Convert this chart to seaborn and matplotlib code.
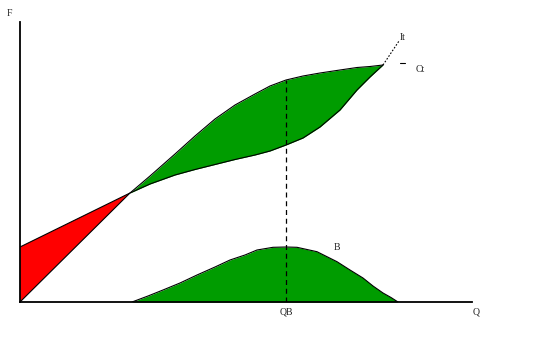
import numpy as np
import pandas as pd
import seaborn as sns
import matplotlib.pyplot as plt

# datos (unidades arbitrarias)
q = [0, 110, 130, 155, 175, 195, 215, 235, 250, 266, 283, 300, 320, 337, 350, 363]
it_vals = [0, 109, 126, 148, 166, 183, 197, 208, 216, 222, 226, 229, 232, 234.5, 235.5, 237]  # ingreso total
ct_vals = [55, 109, 118, 127, 132.5, 137.5, 142.5, 147, 151, 157, 164, 175, 192, 212, 225, 237]  # costo total

it_ext_q = [363, 379]
it_ext = [237, 261]

b_q = [112, 128, 143, 160, 177, 195, 210, 225, 237, 253, 266, 277, 297, 317, 330, 343, 353, 363, 371, 378]
b_vals = [0, 6, 12, 19, 27, 35, 42, 47, 52, 54.7, 55, 54.7, 50.3, 40.3, 32, 24, 16, 9, 4.5, 0]  # beneficio

qb = 266

sns.set_style("white")
plt.rcParams['font.family'] = ['Liberation Serif', 'DejaVu Serif']

fig = plt.figure(figsize=(5.46, 3.55), dpi=100)
ax = fig.add_axes([20 / 546, 53 / 355, 452 / 546, 280 / 355])

df = pd.DataFrame({'Q': q, 'It': it_vals, 'Ct': ct_vals})
it_arr = np.array(it_vals)
ct_arr = np.array(ct_vals)

# zona de perdidas (rojo) y de ganancias (verde)
ax.fill_between(q, it_arr, ct_arr, where=ct_arr >= it_arr, color='#ff0000',
                interpolate=True, lw=0)
ax.fill_between(q, it_arr, ct_arr, where=it_arr >= ct_arr, color='#009c00',
                interpolate=True, lw=0)
ax.fill_between(b_q, 0, b_vals, color='#009c00', lw=0)

sns.lineplot(data=df, x='Q', y='It', color='black', lw=0.8, ax=ax)
sns.lineplot(data=df, x='Q', y='Ct', color='black', lw=0.8, ax=ax)
sns.lineplot(x=b_q, y=b_vals, color='black', lw=0.8, ax=ax)

# prolongacion de It y linea en QB
ax.plot(it_ext_q, it_ext, color='black', lw=0.8, ls=(0, (1.5, 1.5)))
ax.plot([qb, qb], [0, it_vals[q.index(qb)]], color='black', lw=0.9, ls=(0, (4, 3)))
ax.plot([380, 385], [239, 239], color='black', lw=0.8)

ax.set_xlim(0, 452)
ax.set_ylim(0, 280)
ax.set_xticks([])
ax.set_yticks([])
ax.set_xlabel('')
ax.set_ylabel('')
for s in ['top', 'right']:
    ax.spines[s].set_visible(False)
for s in ['left', 'bottom']:
    ax.spines[s].set_color('black')
    ax.spines[s].set_linewidth(1.3)

fs = 7
ax.text(-11, 288, 'F', fontsize=fs, ha='center', va='center')
ax.text(456, -10, 'Q', fontsize=fs, ha='center', va='center')
ax.text(qb, -10, 'QB', fontsize=fs, ha='center', va='center')
ax.text(317, 55, 'B', fontsize=fs, ha='center', va='center')
ax.text(400, 232, 'Ct', fontsize=fs, ha='center', va='center')
ax.text(383, 264, 'It', fontsize=fs, ha='center', va='center')

fig.savefig('out.png', dpi=100)
